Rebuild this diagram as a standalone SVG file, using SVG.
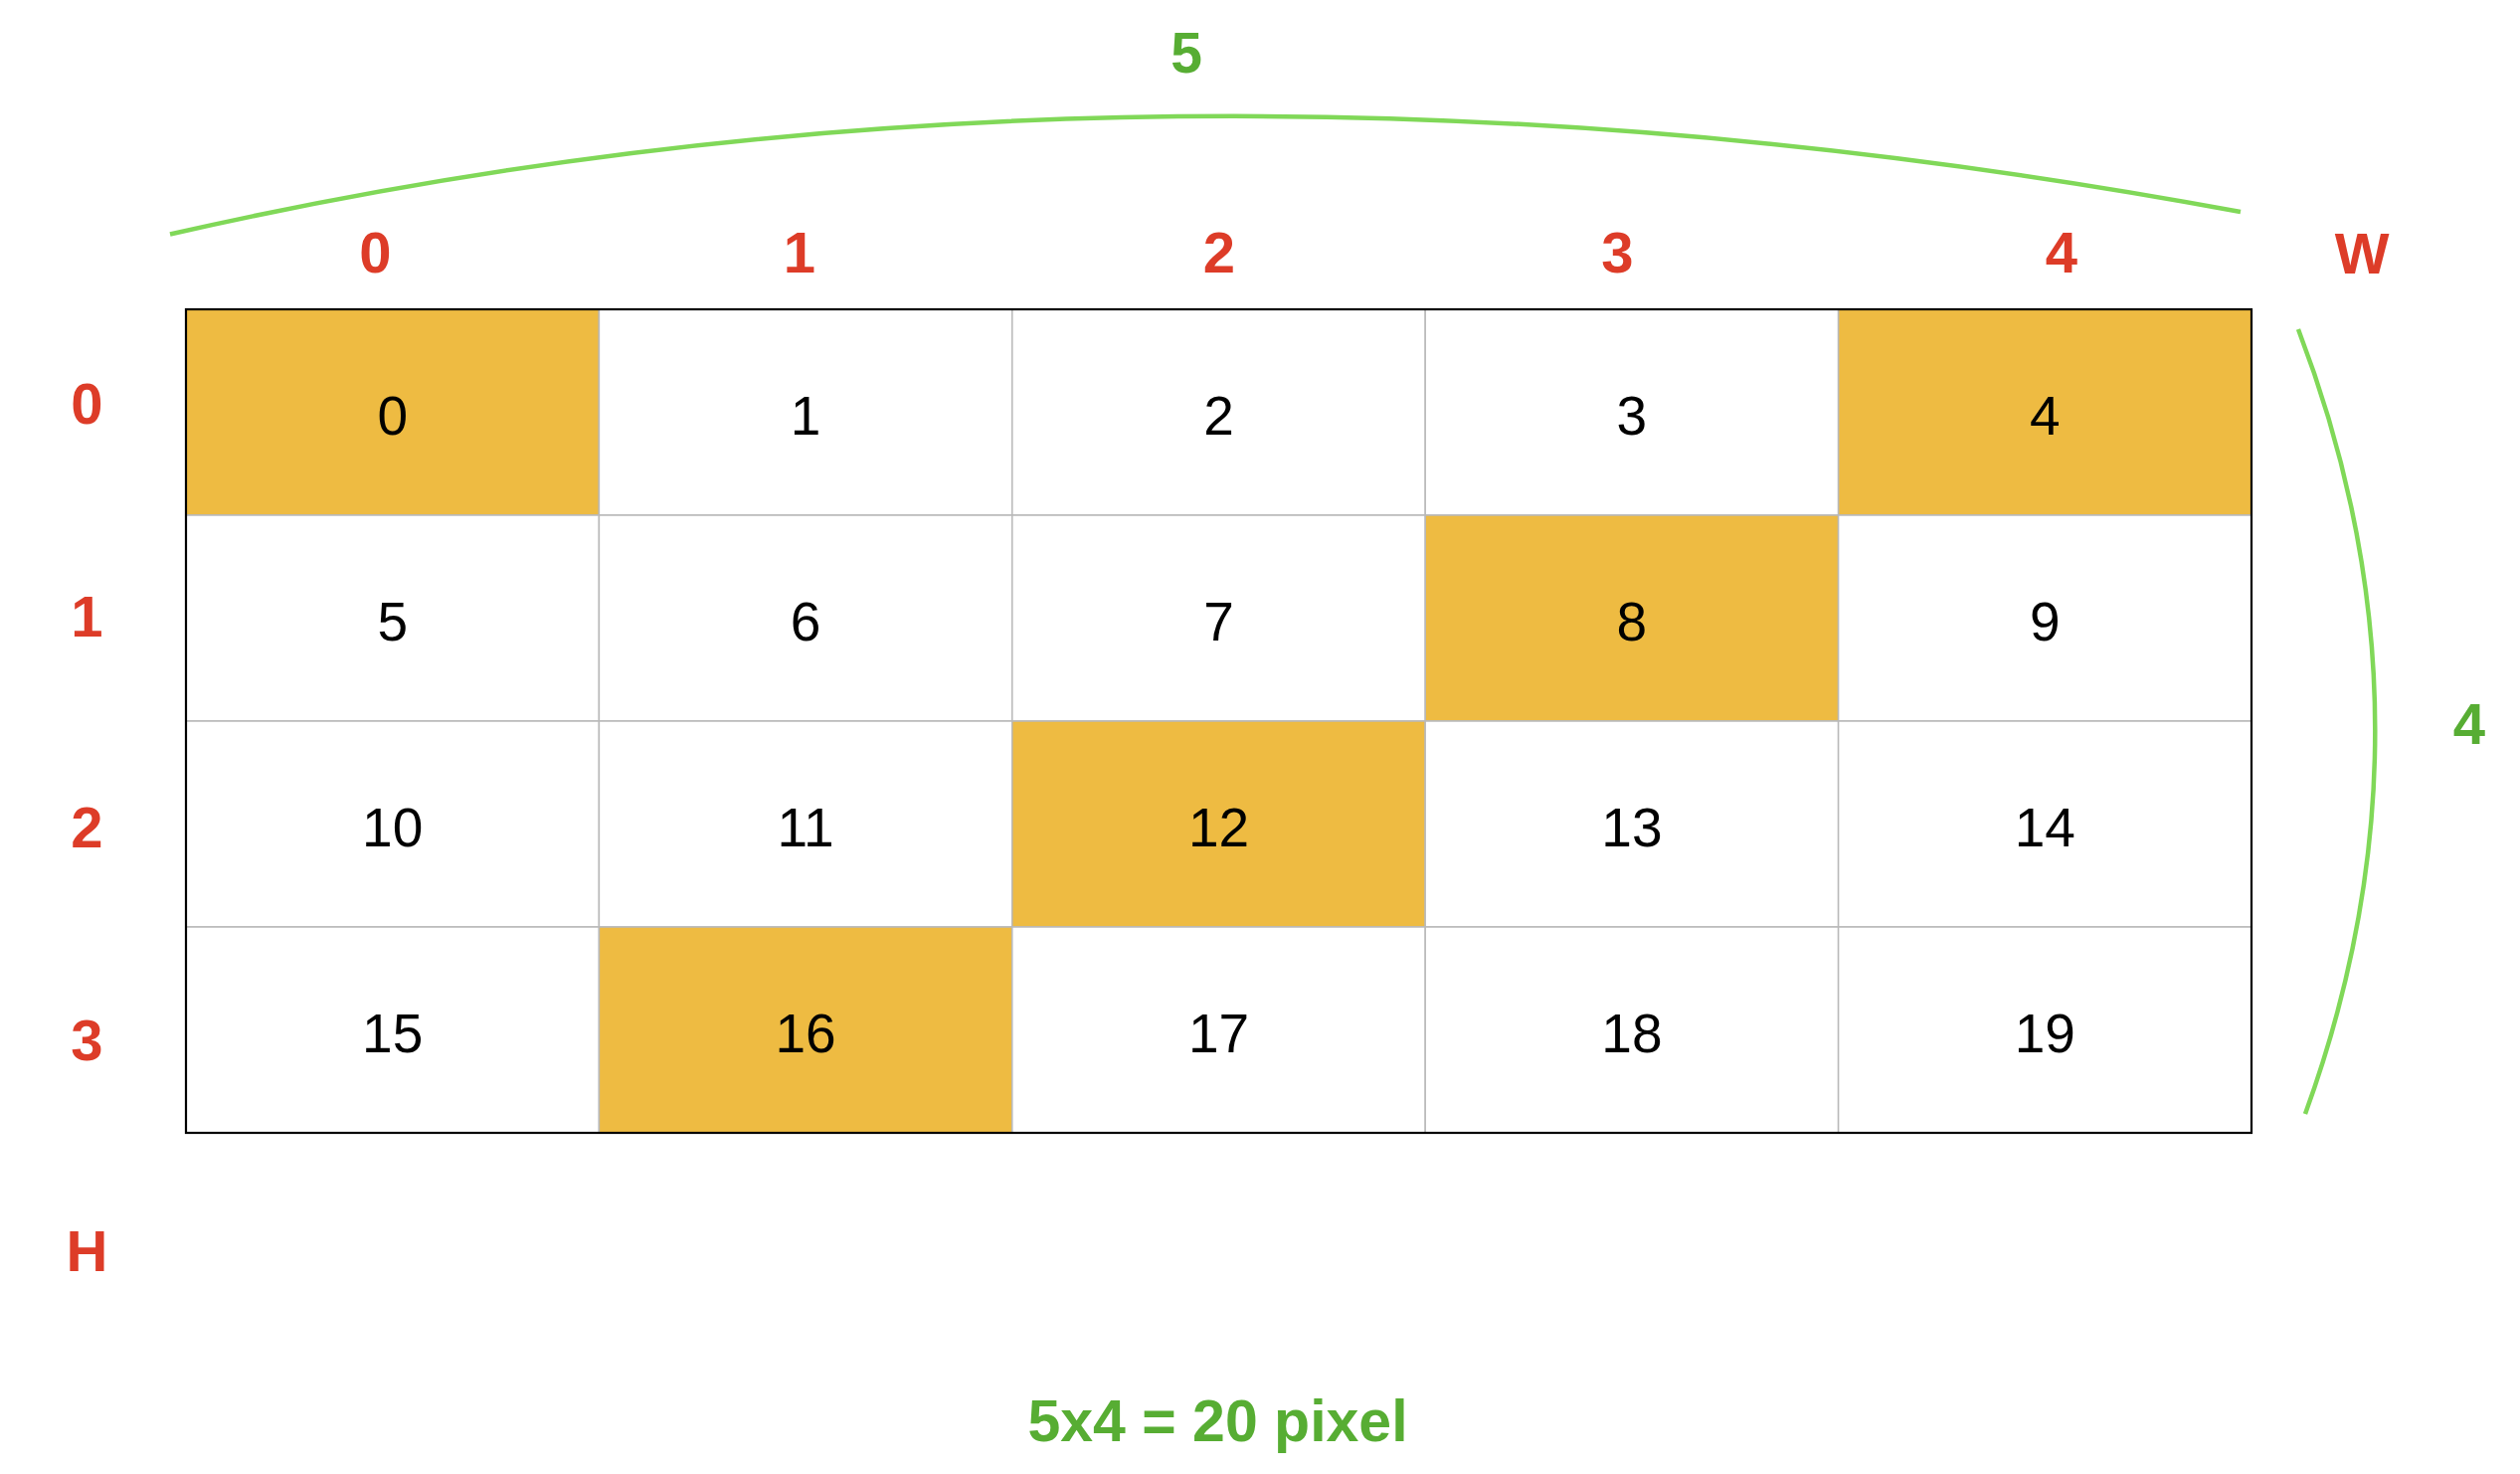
<svg xmlns="http://www.w3.org/2000/svg" width="2534" height="1482" viewBox="0 0 2534 1482">
<style>
.cell{stroke:#b9b9b9;stroke-width:1.5}
.w{fill:#ffffff}
.y{fill:#eebb42}
.num{font-family:"Liberation Sans",Arial,sans-serif;font-size:55px;fill:#000;text-anchor:middle}
.idx{font-family:"Liberation Sans",Arial,sans-serif;font-size:58px;font-weight:bold;fill:#dd3c28;text-anchor:middle}
.dim{font-family:"Liberation Sans",Arial,sans-serif;font-weight:bold;fill:#57ad33;text-anchor:middle}
.arc{fill:none;stroke:#80d858;stroke-width:4.5;stroke-linecap:butt}
</style>
<rect x="0" y="0" width="2534" height="1482" fill="#ffffff"/>
<g id="grid">
<g id="cell-0"><rect class="cell y" x="187" y="311" width="415.4" height="207"/><text class="num" x="394.7" y="436.5">0</text></g>
<g id="cell-1"><rect class="cell w" x="602.4" y="311" width="415.4" height="207"/><text class="num" x="810.1" y="436.5">1</text></g>
<g id="cell-2"><rect class="cell w" x="1017.8" y="311" width="415.4" height="207"/><text class="num" x="1225.5" y="436.5">2</text></g>
<g id="cell-3"><rect class="cell w" x="1433.2" y="311" width="415.4" height="207"/><text class="num" x="1640.9" y="436.5">3</text></g>
<g id="cell-4"><rect class="cell y" x="1848.6" y="311" width="415.4" height="207"/><text class="num" x="2056.3" y="436.5">4</text></g>
<g id="cell-5"><rect class="cell w" x="187" y="518" width="415.4" height="207"/><text class="num" x="394.7" y="643.5">5</text></g>
<g id="cell-6"><rect class="cell w" x="602.4" y="518" width="415.4" height="207"/><text class="num" x="810.1" y="643.5">6</text></g>
<g id="cell-7"><rect class="cell w" x="1017.8" y="518" width="415.4" height="207"/><text class="num" x="1225.5" y="643.5">7</text></g>
<g id="cell-8"><rect class="cell y" x="1433.2" y="518" width="415.4" height="207"/><text class="num" x="1640.9" y="643.5">8</text></g>
<g id="cell-9"><rect class="cell w" x="1848.6" y="518" width="415.4" height="207"/><text class="num" x="2056.3" y="643.5">9</text></g>
<g id="cell-10"><rect class="cell w" x="187" y="725" width="415.4" height="207"/><text class="num" x="394.7" y="850.5">10</text></g>
<g id="cell-11"><rect class="cell w" x="602.4" y="725" width="415.4" height="207"/><text class="num" x="810.1" y="850.5">11</text></g>
<g id="cell-12"><rect class="cell y" x="1017.8" y="725" width="415.4" height="207"/><text class="num" x="1225.5" y="850.5">12</text></g>
<g id="cell-13"><rect class="cell w" x="1433.2" y="725" width="415.4" height="207"/><text class="num" x="1640.9" y="850.5">13</text></g>
<g id="cell-14"><rect class="cell w" x="1848.6" y="725" width="415.4" height="207"/><text class="num" x="2056.3" y="850.5">14</text></g>
<g id="cell-15"><rect class="cell w" x="187" y="932" width="415.4" height="207"/><text class="num" x="394.7" y="1057.5">15</text></g>
<g id="cell-16"><rect class="cell y" x="602.4" y="932" width="415.4" height="207"/><text class="num" x="810.1" y="1057.5">16</text></g>
<g id="cell-17"><rect class="cell w" x="1017.8" y="932" width="415.4" height="207"/><text class="num" x="1225.5" y="1057.5">17</text></g>
<g id="cell-18"><rect class="cell w" x="1433.2" y="932" width="415.4" height="207"/><text class="num" x="1640.9" y="1057.5">18</text></g>
<g id="cell-19"><rect class="cell w" x="1848.6" y="932" width="415.4" height="207"/><text class="num" x="2056.3" y="1057.5">19</text></g>
<rect id="outline" x="187" y="311" width="2077" height="828" fill="none" stroke="#000" stroke-width="2.2"/>
</g>
<g id="col-labels">
<text class="idx" x="377.5" y="274">0</text>
<text class="idx" x="804" y="274">1</text>
<text class="idx" x="1226" y="274">2</text>
<text class="idx" x="1626.5" y="274">3</text>
<text class="idx" x="2073" y="274">4</text>
<text class="idx" x="2375" y="275">W</text>
</g>
<g id="row-labels">
<text class="idx" x="87.5" y="426">0</text>
<text class="idx" x="87.5" y="640">1</text>
<text class="idx" x="87.5" y="852">2</text>
<text class="idx" x="87.5" y="1066">3</text>
<text class="idx" x="87.5" y="1278">H</text>
</g>
<g id="connectors">
<path class="arc" d="M171,235.5 Q1160,10 2253,213"/>
<path class="arc" d="M2311,331 Q2462,725 2318,1120"/>
</g>
<g id="dimension-labels">
<text class="dim" x="1193" y="73" style="font-size:57px">5</text>
<text class="dim" x="2483" y="748" style="font-size:58px">4</text>
<text class="dim" x="1224.5" y="1449" style="font-size:59px">5x4 = 20 pixel</text>
</g>
</svg>
